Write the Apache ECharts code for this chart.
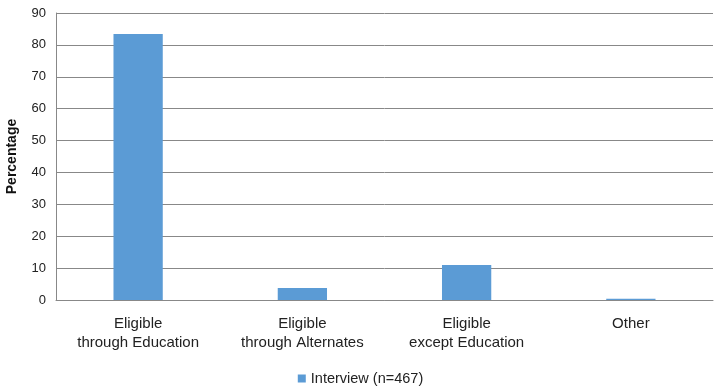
<!DOCTYPE html>
<html><head><meta charset="utf-8">
<script src="https://cdn.jsdelivr.net/npm/echarts@6/dist/echarts.min.js"></script>
<style>html,body{margin:0;padding:0;background:#fff}#c{width:721px;height:392px}</style>
</head><body><div id="c"></div>
<script>
const categories = ["Eligible\nthrough Education", "Eligible\nthrough Alternates", "Eligible\nexcept Education", "Other"];
const interview = [83.4, 3.8, 11.0, 0.4];
const seriesName = "Interview (n=467)";
const yTitle = "Percentage";

const chart = echarts.init(document.getElementById('c'));
const font = "'Liberation Sans', Arial, sans-serif";
chart.setOption({
  animation: false,
  grid: {left: 56, right: 8, top: 13, bottom: 92, containLabel: false, outerBoundsMode: 'none'},
  legend: {
    top: 366, left: 'center',
    itemWidth: 8, itemHeight: 8, itemGap: 4,
    icon: 'rect',
    textStyle: {fontFamily: font, fontSize: 14.5, color: '#222'},
    data: [seriesName]
  },
  xAxis: {
    type: 'category', data: categories,
    axisLine: {lineStyle: {color: '#888', width: 1}},
    axisTick: {show: false},
    axisLabel: {fontFamily: font, fontSize: 15, color: '#222', margin: 14, lineHeight: 19}
  },
  yAxis: {
    type: 'value', min: 0, max: 90, interval: 10,
    name: yTitle, nameLocation: 'middle', nameGap: 37,
    nameTextStyle: {fontFamily: font, fontSize: 14, fontWeight: 'bold', color: '#111'},
    axisLine: {show: true, lineStyle: {color: '#888'}},
    axisTick: {show: false},
    axisLabel: {fontFamily: font, fontSize: 13, color: '#222', margin: 10},
    splitLine: {lineStyle: {color: '#888', width: 1}}
  },
  series: [{
    name: seriesName, type: 'bar', data: interview,
    barWidth: '30%',
    itemStyle: {color: '#5b9bd5'}
  }]
});
</script></body></html>
